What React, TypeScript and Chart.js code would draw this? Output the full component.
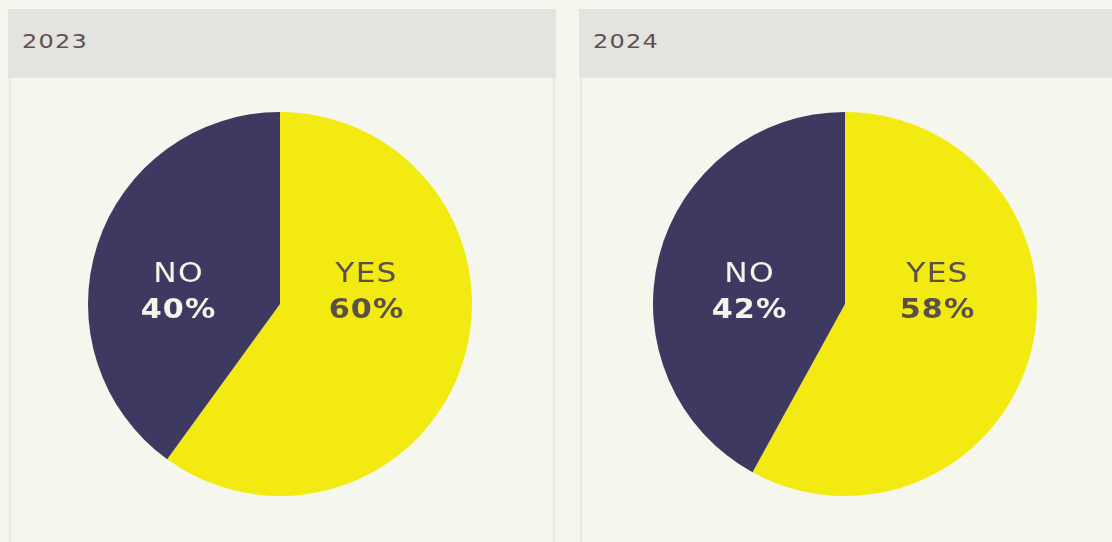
import React, { useEffect, useRef } from "react";
import { Chart, registerables } from "chart.js";

Chart.register(...registerables);

const categories = ["YES", "NO"];
const years = ["2023", "2024"];
const values2023 = [60, 40];
const values2024 = [58, 42];

const sliceColors = ["#f2ea10", "#3e3960"];
const labelColors = ["#5b4f4c", "#f4f3ec"];

const FONT = "'DejaVu Sans', sans-serif";

function drawWide(ctx: any, text: string, x: number, y: number, sx: number) {
  ctx.save();
  ctx.translate(x, y);
  ctx.scale(sx, 1);
  ctx.fillText(text, 0, 0);
  ctx.restore();
}

const sliceLabelPlugin = {
  id: "sliceLabels",
  afterDatasetsDraw(chart: any, _args: any, opts: any) {
    const ctx = chart.ctx;
    const meta = chart.getDatasetMeta(0);
    const ds = chart.data.datasets[0];
    meta.data.forEach((arc: any, i: number) => {
      const cx = arc.x;
      const cy = arc.y;
      const x = cx + (opts.offsets?.[i] ?? 0);
      ctx.save();
      ctx.fillStyle = labelColors[i];
      ctx.textAlign = "center";
      ctx.textBaseline = "alphabetic";
      (ctx as any).letterSpacing = "1px";
      ctx.font = `normal 27px ${FONT}`;
      drawWide(ctx, chart.data.labels[i], x + 0.5, cy - 22, 1.16);
      (ctx as any).letterSpacing = "1px";
      ctx.font = `bold 27px ${FONT}`;
      drawWide(ctx, `${ds.data[i]}%`, x + 0.5, cy + 14, 1.12);
      ctx.restore();
    });
  },
};

function Pie({ values, offsets, left }: { values: number[]; offsets: number[]; left: number }) {
  const ref = useRef<HTMLCanvasElement>(null);
  useEffect(() => {
    if (!ref.current) return;
    const chart = new Chart(ref.current, {
      type: "pie",
      data: {
        labels: categories,
        datasets: [
          {
            data: values,
            backgroundColor: sliceColors,
            borderWidth: 0,
          },
        ],
      },
      options: {
        responsive: false,
        animation: false,
        layout: { padding: 8 },
        plugins: {
          legend: { display: false },
          tooltip: { enabled: false },
          sliceLabels: { offsets },
        } as any,
      },
      plugins: [sliceLabelPlugin],
    });
    return () => chart.destroy();
  }, []);
  return (
    <canvas
      ref={ref}
      width={400}
      height={400}
      style={{ position: "absolute", left, top: 96, width: 400, height: 400 }}
    />
  );
}

function Panel({ left, width, title }: { left: number; width: number; title: string }) {
  return (
    <>
      <div
        style={{
          position: "absolute",
          left,
          top: 1,
          width,
          height: 69,
          background: "#e4e3e0",
        }}
      >
        <span
          style={{
            position: "absolute",
            left: 14,
            top: 20,
            fontFamily: FONT,
            fontSize: 20,
            lineHeight: "24px",
            letterSpacing: "1px",
            color: "#5e514f",
            transform: "scaleX(1.2)",
            transformOrigin: "left center",
            whiteSpace: "nowrap",
          }}
        >
          {title}
        </span>
      </div>
      <div
        style={{
          position: "absolute",
          left: left + 1,
          top: 70,
          width: width - 2,
          height: 480,
          boxSizing: "border-box",
          borderLeft: "2px solid #e8e8e3",
          borderRight: "2px solid #e8e8e3",
        }}
      />
    </>
  );
}

export default function App() {
  useEffect(() => {
    document.documentElement.style.background = "#f5f6ee";
    document.documentElement.style.overflow = "hidden";
    document.body.style.background = "#f5f6ee";
    document.body.style.margin = "8px 0 0 8px";
  }, []);
  return (
    <div style={{ position: "relative", width: 1104, height: 534, overflow: "hidden" }}>
      <Panel left={0} title={years[0]} width={548} />
      <Panel left={571} title={years[1]} width={548} />
      <Pie values={values2023} offsets={[86, -102]} left={72} />
      <Pie values={values2024} offsets={[92, -96]} left={637} />
    </div>
  );
}
